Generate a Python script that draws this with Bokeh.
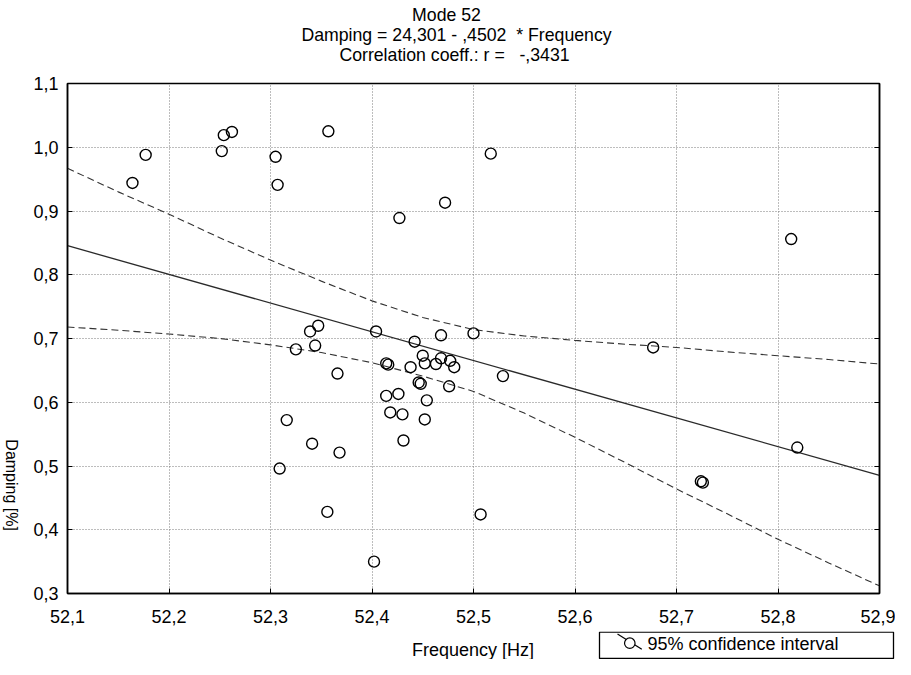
import math
from bokeh.plotting import figure
from bokeh.models import FixedTicker, LinearAxis, Range1d, Label
from bokeh.layouts import column, row
from bokeh.embed import file_html
from bokeh.resources import INLINE

# ---- data ----
freq = [52.164, 52.177, 52.252, 52.254, 52.262, 52.305, 52.307, 52.357,
        52.427, 52.472, 52.517, 52.813,
        52.347, 52.339, 52.344, 52.325, 52.404, 52.366, 52.414, 52.416,
        52.414, 52.418, 52.316, 52.341, 52.368, 52.309,
        52.442, 52.468, 52.500, 52.450, 52.452, 52.438, 52.463, 52.468,
        52.477, 52.481, 52.529, 52.446, 52.448, 52.476, 52.426, 52.454,
        52.430, 52.452, 52.431,
        52.677, 52.819, 52.724, 52.726,
        52.507, 52.402, 52.356]
damp = [0.944, 0.988, 0.994, 1.019, 1.024, 0.985, 0.941, 1.025,
        0.889, 0.913, 0.990, 0.856,
        0.720, 0.711, 0.689, 0.683, 0.711, 0.645, 0.661, 0.659,
        0.610, 0.584, 0.572, 0.535, 0.521, 0.496,
        0.695, 0.705, 0.708, 0.673, 0.661, 0.655, 0.660, 0.669,
        0.665, 0.655, 0.641, 0.631, 0.629, 0.625, 0.613, 0.603,
        0.581, 0.573, 0.540,
        0.686, 0.529, 0.476, 0.474,
        0.424, 0.350, 0.428]

fit_x = [52.1, 52.9]
fit_y = [0.8456, 0.4854]

ci_x = [52.1, 52.15, 52.2, 52.25, 52.3, 52.35, 52.4, 52.45, 52.5,
        52.55, 52.6, 52.65, 52.7, 52.75, 52.8, 52.85, 52.9]
ci_upper = [0.967, 0.930, 0.895, 0.858, 0.823, 0.790, 0.759, 0.733, 0.714,
            0.704, 0.697, 0.691, 0.686, 0.679, 0.673, 0.667, 0.660]
ci_lower = [0.718, 0.713, 0.707, 0.700, 0.690, 0.678, 0.662, 0.641, 0.617,
            0.583, 0.545, 0.505, 0.464, 0.425, 0.385, 0.348, 0.312]

x_ticks = [52.1, 52.2, 52.3, 52.4, 52.5, 52.6, 52.7, 52.8, 52.9]
x_tick_labels = ["52,1", "52,2", "52,3", "52,4", "52,5", "52,6", "52,7", "52,8", "52,9"]
y_ticks = [0.3, 0.4, 0.5, 0.6, 0.7, 0.8, 0.9, 1.0, 1.1]
y_tick_labels = ["0,3", "0,4", "0,5", "0,6", "0,7", "0,8", "0,9", "1,0", "1,1"]

title_lines = ["Mode 52",
               "Damping = 24,301 - ,4502 \u00a0* Frequency",
               "Correlation coeff.: r = \u00a0\u00a0-,3431"]
x_label = "Frequency [Hz]"
y_label = "Damping [%]"
legend_label = "95% confidence interval"

FONT = "Liberation Sans"
FS = "18px"
TFS = "17.7px"
YFS = "16px"

W = 895          # total page content width
TOP_H = 71       # title strip
MAIN_H = 560     # plot strip
BOT_H = 28       # x label / legend strip
YLAB_W = 30      # y label strip


def blank_fig(w, h):
    f = figure(width=w, height=h, x_range=Range1d(0, w), y_range=Range1d(0, h),
               x_axis_type=None, y_axis_type=None, output_backend="svg",
               toolbar_location=None, min_border=0)
    f.outline_line_color = None
    f.background_fill_color = "white"
    f.border_fill_color = "white"
    return f


def txt(text, x, y, align="center", baseline="middle", angle=0.0, size=FS):
    return Label(x=x, y=y, text=text, text_align=align, text_baseline=baseline,
                 angle=angle, text_font=FONT, text_font_size=size, text_color="black")


# ---------------- main plot ----------------
p = figure(width=W - YLAB_W, height=MAIN_H,
           x_range=Range1d(x_ticks[0], x_ticks[-1]),
           y_range=Range1d(y_ticks[0], y_ticks[-1]),
           output_backend="svg", toolbar_location=None,
           min_border_left=36, min_border_right=16,
           min_border_top=12, min_border_bottom=38)
p.background_fill_color = "white"
p.border_fill_color = "white"
p.outline_line_color = "black"
p.outline_line_width = 1.5

for g, t in ((p.xgrid, x_ticks), (p.ygrid, y_ticks)):
    g.ticker = FixedTicker(ticks=t)
    g.grid_line_color = "#7a7a7a"
    g.grid_line_dash = "1 2"
    g.grid_line_width = 1

p.xaxis.ticker = FixedTicker(ticks=x_ticks)
p.xaxis.major_label_overrides = dict(zip(x_ticks, x_tick_labels))
p.yaxis.ticker = FixedTicker(ticks=y_ticks)
p.yaxis.major_label_overrides = dict(zip(y_ticks, y_tick_labels))
for ax in (p.xaxis, p.yaxis):
    ax.axis_line_color = "black"
    ax.axis_line_width = 1.5
    ax.major_tick_in = 5
    ax.major_tick_out = 0
    ax.major_tick_line_color = "black"
    ax.minor_tick_line_color = None
    ax.major_label_text_font = FONT
    ax.major_label_text_font_size = FS
    ax.major_label_text_color = "black"
p.xaxis.major_label_standoff = 16
p.yaxis.major_label_standoff = 9

right_ax = LinearAxis(ticker=FixedTicker(ticks=y_ticks),
                      major_label_overrides={t: "" for t in y_ticks},
                      major_tick_in=5, major_tick_out=0,
                      minor_tick_line_color=None,
                      axis_line_color="black", axis_line_width=1.5,
                      major_label_standoff=0)
p.add_layout(right_ax, "right")

p.line(ci_x, ci_upper, line_color="#333333", line_width=1.1, line_dash="7 4")
p.line(ci_x, ci_lower, line_color="#333333", line_width=1.1, line_dash="7 4")
p.line(fit_x, fit_y, line_color="#2a2a2a", line_width=1.3)
p.scatter(freq, damp, marker="circle", size=11, fill_color=None,
          line_color="black", line_width=1.4)

# ---------------- title strip ----------------
top = blank_fig(W, TOP_H)
for line, x, y in zip(title_lines, (446, 456, 454), (56.5, 36.5, 17)):
    top.add_layout(txt(line, x, y, baseline="alphabetic", size=TFS))

# ---------------- y label strip ----------------
ylab = blank_fig(YLAB_W, MAIN_H)
ylab.add_layout(txt(y_label, 11, 119, angle=-math.pi / 2, size=YFS))

# ---------------- x label + legend strip ----------------
bot = blank_fig(W, BOT_H)
bot.add_layout(txt(x_label, 472.5, 10))
bot.quad(left=[599], right=[893], bottom=[1], top=[27.3],
         fill_color="white", line_color="black", line_width=1.3)
bot.segment(x0=[617], y0=[25.5], x1=[641.3], y1=[10.3],
            line_color="black", line_width=1.2)
bot.scatter(x=[629.3], y=[16.3], marker="circle", size=10.5, fill_color="white",
            line_color="black", line_width=1.2)
bot.add_layout(txt(legend_label, 647, 15.5, align="left"))

layout = column(top, row(ylab, p), bot)
open("out.html", "w").write(file_html(layout, INLINE))
